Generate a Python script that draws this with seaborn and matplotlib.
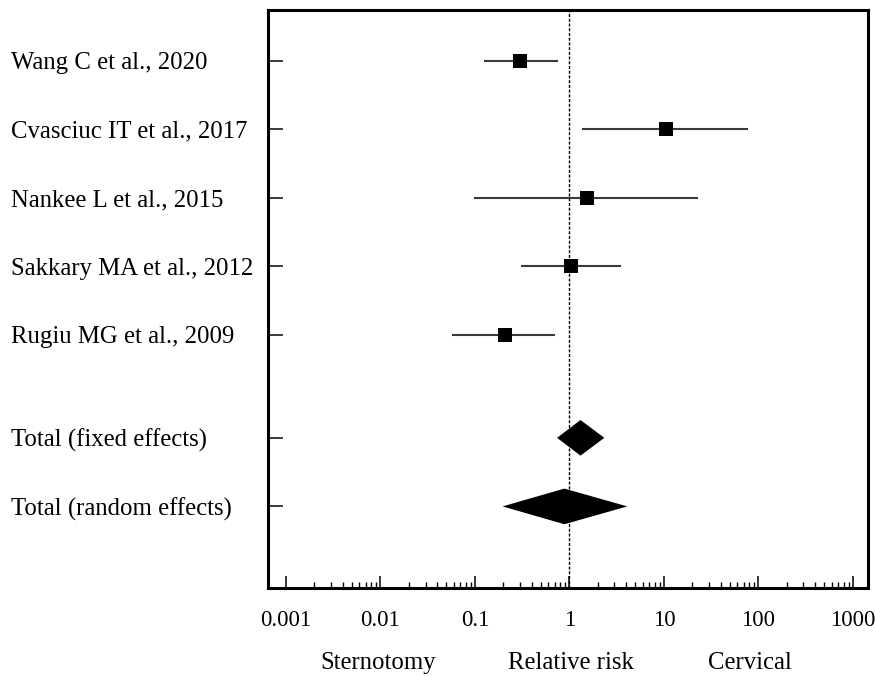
import numpy as np
import pandas as pd
import matplotlib
matplotlib.use("Agg")
import matplotlib.pyplot as plt
import matplotlib.ticker as mticker
import seaborn as sns

# Study-level estimates (relative risk with 95% CI)
studies = ["Wang C et al., 2020", "Cvasciuc IT et al., 2017", "Nankee L et al., 2015",
           "Sakkary MA et al., 2012", "Rugiu MG et al., 2009"]
rr = [0.30, 10.6, 1.55, 1.05, 0.21]
ci_low = [0.126, 1.37, 0.097, 0.31, 0.057]
ci_high = [0.75, 78.0, 23.0, 3.5, 0.71]

# Pooled estimates
pooled = ["Total (fixed effects)", "Total (random effects)"]
pooled_rr = [1.31, 0.885]
pooled_low = [0.74, 0.196]
pooled_high = [2.34, 4.1]

study_rows = [0, 1, 2, 3, 4]
pooled_rows = [5.5, 6.5]

xtick_vals = [0.001, 0.01, 0.1, 1, 10, 100, 1000]
xtick_labels = ["0.001", "0.01", "0.1", "1", "10", "100", "1000"]

sns.set_theme(style="ticks")
plt.rcParams["font.family"] = ["Liberation Serif", "DejaVu Serif"]
plt.rcParams["text.color"] = "black"

fig = plt.figure(figsize=(8.75, 6.76), dpi=100)
ax = fig.add_axes([268 / 875, 1 - 588 / 676, 600 / 875, 578 / 676])

df = pd.DataFrame({"study": studies, "rr": rr, "row": study_rows,
                   "lo": ci_low, "hi": ci_high})

# confidence intervals
ax.hlines(df["row"], df["lo"], df["hi"], color="#3a3a3a", lw=1.5, zorder=2)
sns.scatterplot(data=df, x="rr", y="row", marker="s", s=100, color="black",
                edgecolor="black", linewidth=0, ax=ax, zorder=3, legend=False)

# pooled diamonds
half_h = 0.26
for y, c, lo, hi in zip(pooled_rows, pooled_rr, pooled_low, pooled_high):
    ax.fill([lo, c, hi, c], [y, y - half_h, y, y + half_h], color="black",
            lw=0, zorder=3)

ax.axvline(1, color="black", lw=1.0, ls=(0, (2.2, 1.2)), zorder=1)

ax.set_xscale("log")
ax.set_xlim(10 ** -3.19, 10 ** 3.16)
ax.set_ylim(7.69, -0.74)

minor_vals = [m * d for d in [0.001, 0.01, 0.1, 1, 10, 100] for m in range(2, 10)]
ax.xaxis.set_major_locator(mticker.FixedLocator(xtick_vals))
ax.xaxis.set_major_formatter(mticker.FixedFormatter(xtick_labels))
ax.xaxis.set_minor_locator(mticker.FixedLocator(minor_vals))
ax.xaxis.set_minor_formatter(mticker.NullFormatter())
ax.tick_params(axis="x", which="major", direction="in", length=9, width=1.1,
               color="black", labelsize=16.5, pad=16, labelcolor="black")
ax.tick_params(axis="x", which="minor", direction="in", length=4.5, width=1.0,
               color="black")

ax.set_yticks(study_rows + pooled_rows)
ax.set_yticklabels(studies + pooled)
ax.tick_params(axis="y", which="major", direction="in", length=11, width=1.4,
               color="#3a3a3a", labelsize=17.8, pad=257 * 0.72, labelcolor="black")
ax.tick_params(axis="y", which="minor", left=False)
for lab in ax.get_yticklabels():
    lab.set_horizontalalignment("left")

ax.set_xlabel("")
ax.set_ylabel("")
for sp in ax.spines.values():
    sp.set_visible(True)
    sp.set_linewidth(2.2)
    sp.set_color("black")

fig.text(378 / 875, 1 - 669 / 676, "Sternotomy", ha="center", va="baseline", fontsize=17.8)
fig.text(571 / 875, 1 - 669 / 676, "Relative risk", ha="center", va="baseline", fontsize=17.8)
fig.text(750 / 875, 1 - 669 / 676, "Cervical", ha="center", va="baseline", fontsize=17.8)

fig.savefig("out.png", dpi=100, facecolor="white")
